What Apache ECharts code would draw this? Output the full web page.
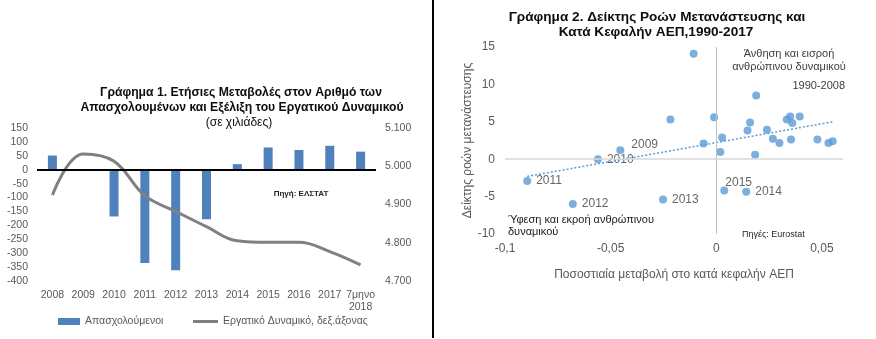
<!DOCTYPE html>
<html>
<head>
<meta charset="utf-8">
<script src="https://cdn.jsdelivr.net/npm/echarts@6/dist/echarts.min.js"></script>
<style>
  html, body { margin: 0; padding: 0; background: #ffffff; }
  #chart { width: 876px; height: 339px; }
</style>
</head>
<body>
<div id="chart"></div>
<script>
// Chart 1: yearly change in employed persons (bars, left axis) and labour force (line, right axis)
const years = ['2008', '2009', '2010', '2011', '2012', '2013', '2014', '2015', '2016', '2017', '7μηνο\n2018'];
const employedChange = [51, 0, -168, -335, -361, -178, 20, 80, 71, 86, 65];
const labourForce = [4925, 5032, 5013, 4923, 4882, 4842, 4805, 4801, 4801, 4777, 4742];
const leftTicks = { min: -400, max: 150, interval: 50 };
const rightTicks = { min: 4700, max: 5100, interval: 100 };

// Chart 2: migration flow index vs. per-capita GDP change, 1990-2017
const pointX = [-0.0107, -0.0217, -0.001, 0.0189, 0.016, 0.0334, 0.035, 0.036, 0.0395, 0.0148, 0.024,
                -0.006, 0.0028, 0.0019, 0.0184, 0.0268, 0.0299, 0.0354, 0.0479, 0.0531, 0.0551];
const pointY = [14.1, 5.3, 5.6, 8.5, 4.9, 5.3, 5.7, 4.85, 5.7, 3.85, 3.95,
                2.1, 2.9, 0.95, 0.6, 2.75, 2.15, 2.65, 2.65, 2.15, 2.4];
const labeledYears = ['2009', '2010', '2011', '2012', '2013', '2014', '2015'];
const labeledX = [-0.0454, -0.056, -0.0895, -0.0679, -0.0252, 0.0142, 0.0038];
const labeledY = [1.2, 0.0, -2.9, -6.0, -5.4, -4.35, -4.2];
const trendX = [-0.0895, 0.0551];
const trendY = [-2.3, 5.0];

const FONT = "'Liberation Sans', Arial, sans-serif";
const AXIS_GREY = '#595959';

const labelOffsets = { '2009': [2, -6], '2015': [-8, -8] };

const scatterData = pointX.map((x, i) => [x, pointY[i]]);
const labeledData = labeledYears.map((y, i) => ({
  name: y,
  value: [labeledX[i], labeledY[i]],
  label: { offset: labelOffsets[y] || [0, 0] }
}));
const trendData = trendX.map((x, i) => [x, trendY[i]]);

const chart = echarts.init(document.getElementById('chart'), null, { renderer: 'canvas' });

function text(x, y, str, opts) {
  return {
    type: 'text',
    x: x, y: y,
    silent: true,
    style: Object.assign({
      text: str,
      font: '12px ' + FONT,
      fill: '#000',
      align: 'center',
      verticalAlign: 'middle'
    }, opts || {})
  };
}

const legendText = { color: AXIS_GREY, fontSize: 10.5, fontFamily: FONT };

chart.setOption({
  animation: false,
  backgroundColor: '#ffffff',
  textStyle: { fontFamily: FONT },
  grid: [
    { left: 37, top: 128, width: 339, height: 153, containLabel: false },
    { left: 505, top: 47, width: 338, height: 187, containLabel: false }
  ],
  legend: [
    {
      left: 58, top: 316, padding: 0,
      itemWidth: 22, itemHeight: 7,
      textStyle: legendText,
      data: [{ name: 'Απασχολούμενοι', icon: 'rect' }]
    },
    {
      left: 193, top: 316, padding: 0,
      itemWidth: 25, itemHeight: 3,
      textStyle: legendText,
      data: [{ name: 'Εργατικό Δυναμικό, δεξ.άξονας', icon: 'rect' }]
    }
  ],
  xAxis: [
    {
      type: 'category',
      gridIndex: 0,
      data: years,
      axisLine: { show: false },
      axisTick: { show: false },
      axisLabel: { interval: 0, color: AXIS_GREY, fontSize: 10.5, margin: 8, lineHeight: 12 }
    },
    {
      type: 'value',
      gridIndex: 1,
      min: -0.1,
      max: 0.06,
      interval: 0.05,
      axisLine: { show: false },
      axisTick: { show: false },
      splitLine: { show: false },
      axisLabel: {
        color: AXIS_GREY, fontSize: 12, margin: 9, showMaxLabel: false,
        formatter: v => String(Math.round(v * 100) / 100).replace('.', ',')
      },
      name: 'Ποσοστιαία μεταβολή στο κατά κεφαλήν ΑΕΠ',
      nameLocation: 'middle',
      nameGap: 35,
      nameTextStyle: { color: AXIS_GREY, fontSize: 12 }
    }
  ],
  yAxis: [
    {
      type: 'value',
      gridIndex: 0,
      min: leftTicks.min, max: leftTicks.max, interval: leftTicks.interval,
      axisLine: { show: false },
      axisTick: { show: false },
      splitLine: { show: false },
      axisLabel: { color: AXIS_GREY, fontSize: 10.5, margin: 9 }
    },
    {
      type: 'value',
      gridIndex: 0,
      position: 'right',
      min: rightTicks.min, max: rightTicks.max, interval: rightTicks.interval,
      axisLine: { show: false },
      axisTick: { show: false },
      splitLine: { show: false },
      axisLabel: {
        color: AXIS_GREY, fontSize: 10.5, margin: 9,
        formatter: v => String(v).replace(/\B(?=(\d{3})+(?!\d))/g, '.')
      }
    },
    {
      type: 'value',
      gridIndex: 1,
      min: -10, max: 15, interval: 5,
      axisLine: { show: false },
      axisTick: { show: false },
      splitLine: { show: false },
      axisLabel: { color: AXIS_GREY, fontSize: 12, margin: 10 },
      name: 'Δείκτης ροών μετανάστευσης',
      nameLocation: 'middle',
      nameGap: 30,
      nameTextStyle: { color: AXIS_GREY, fontSize: 12 }
    }
  ],
  series: [
    {
      name: 'Απασχολούμενοι',
      type: 'bar',
      xAxisIndex: 0,
      yAxisIndex: 0,
      data: employedChange,
      barWidth: 9,
      itemStyle: { color: '#4f81bd' },
      markLine: {
        silent: true,
        symbol: 'none',
        label: { show: false },
        lineStyle: { color: '#000', width: 2, type: 'solid' },
        data: [{ yAxis: 0 }]
      },
      z: 2
    },
    {
      name: 'Εργατικό Δυναμικό, δεξ.άξονας',
      type: 'line',
      xAxisIndex: 0,
      yAxisIndex: 1,
      data: labourForce,
      smooth: 0.4,
      symbol: 'none',
      lineStyle: { color: '#808080', width: 3 },
      itemStyle: { color: '#808080' },
      z: 3
    },
    {
      name: 'points',
      type: 'scatter',
      xAxisIndex: 1,
      yAxisIndex: 2,
      data: scatterData,
      symbolSize: 8,
      itemStyle: { color: '#5b9bd5' },
      markLine: {
        silent: true,
        symbol: 'none',
        label: { show: false },
        data: [
          { xAxis: 0, lineStyle: { color: '#bfbfbf', width: 1, type: 'solid' } },
          { yAxis: 0, lineStyle: { color: '#d9d9d9', width: 1.5, type: 'solid' } }
        ]
      },
      z: 3
    },
    {
      name: 'years',
      type: 'scatter',
      xAxisIndex: 1,
      yAxisIndex: 2,
      data: labeledData,
      symbolSize: 8,
      itemStyle: { color: '#5b9bd5' },
      label: {
        show: true,
        position: 'right',
        distance: 5,
        formatter: p => p.name,
        color: '#404040',
        fontSize: 12,
        fontFamily: FONT
      },
      z: 3
    },
    {
      name: 'trend',
      type: 'line',
      xAxisIndex: 1,
      yAxisIndex: 2,
      data: trendData,
      symbol: 'none',
      lineStyle: { color: '#5b9bd5', width: 1.5, type: [2, 2] },
      z: 4
    }
  ],
  graphic: [
    // divider between the two charts
    {
      type: 'line',
      silent: true,
      shape: { x1: 433, y1: 0, x2: 433, y2: 338 },
      style: { stroke: '#000', lineWidth: 2 }
    },
    text(241, 93, 'Γράφημα 1. Ετήσιες Μεταβολές στον Αριθμό των', { font: 'bold 12.2px ' + FONT, fill: '#0d0d0d' }),
    text(242, 108, 'Απασχολουμένων και Εξέλιξη του Εργατικού Δυναμικού', { font: 'bold 12.2px ' + FONT, fill: '#0d0d0d' }),
    text(239, 123, '(σε χιλιάδες)', { font: '12px ' + FONT, fill: '#0d0d0d' }),
    text(301, 194, 'Πηγή: ΕΛΣΤΑΤ', { font: 'bold 8px ' + FONT, fill: '#262626' }),
    text(657, 17, 'Γράφημα 2. Δείκτης Ροών Μετανάστευσης και', { font: 'bold 13.6px ' + FONT, fill: '#0d0d0d' }),
    text(656, 32, 'Κατά Κεφαλήν ΑΕΠ,1990-2017', { font: 'bold 13.6px ' + FONT, fill: '#0d0d0d' }),
    text(789, 54, 'Άνθηση και εισροή', { font: '11px ' + FONT, fill: '#404040' }),
    text(789, 67, 'ανθρώπινου δυναμικού', { font: '11px ' + FONT, fill: '#404040' }),
    text(845, 86, '1990-2008', { font: '11px ' + FONT, fill: '#404040', align: 'right' }),
    text(508, 220, 'Ύφεση και εκροή ανθρώπινου', { font: '11px ' + FONT, fill: '#1a1a1a', align: 'left' }),
    text(508, 232, 'δυναμικού', { font: '11px ' + FONT, fill: '#1a1a1a', align: 'left' }),
    text(742, 235, 'Πηγές: Eurostat', { font: '9px ' + FONT, fill: '#262626', align: 'left' })
  ]
});
</script>
</body>
</html>
